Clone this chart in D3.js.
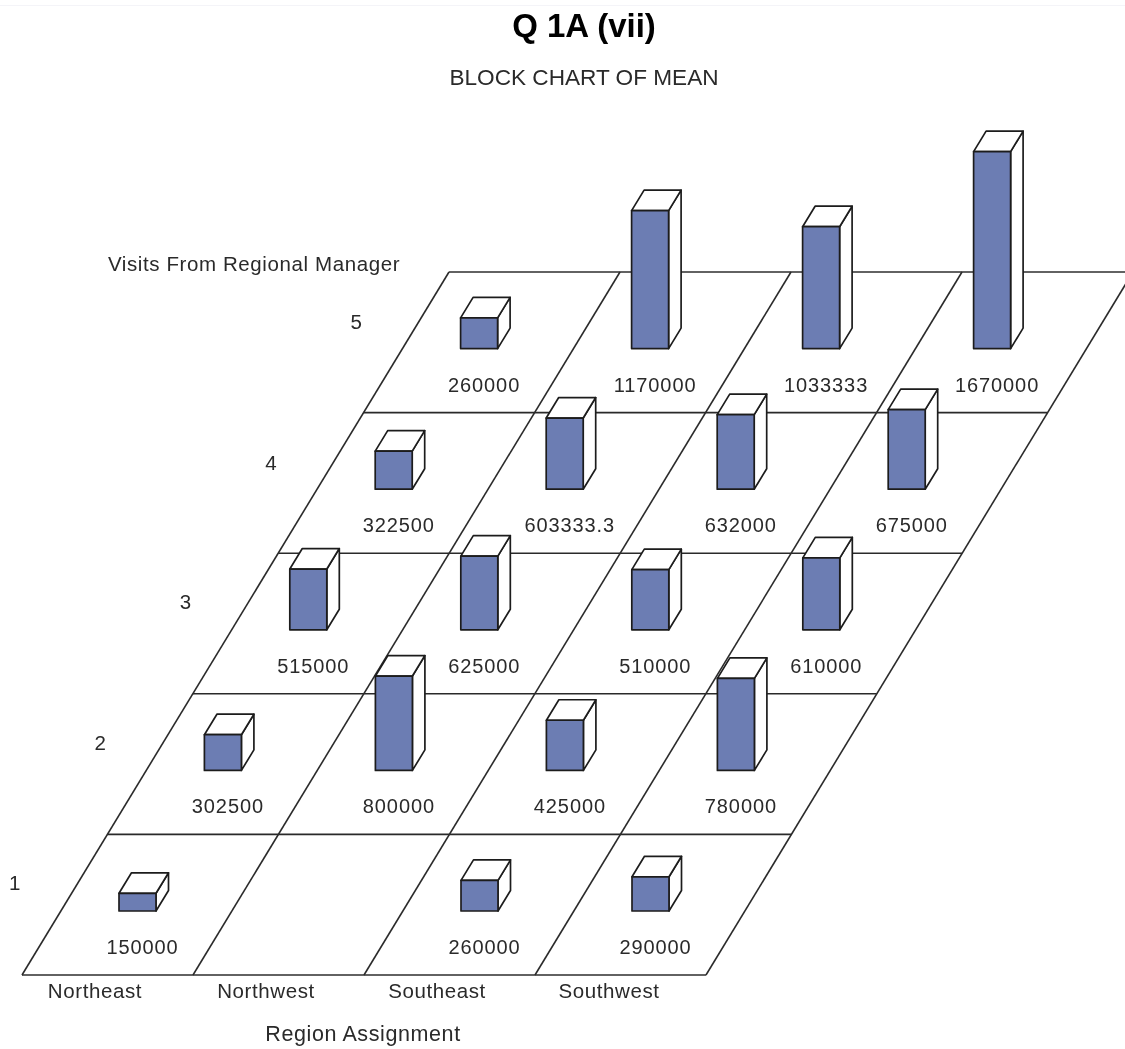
<!DOCTYPE html>
<html><head><meta charset="utf-8">
<script src="https://cdn.jsdelivr.net/npm/d3@7"></script>
<style>
html,body{margin:0;padding:0;background:#fff}
svg{display:block}
text{font-family:"Liberation Sans",Arial,sans-serif;fill:#2a2a2a}
</style></head><body>
<div id="chart"></div>
<script>
const regions = ["Northeast","Northwest","Southeast","Southwest"];
const visits = ["1","2","3","4","5"];
const row1 = [150000,null,260000,290000];
const row2 = [302500,800000,425000,780000];
const row3 = [515000,625000,510000,610000];
const row4 = [322500,603333.3,632000,675000];
const row5 = [260000,1170000,1033333,1670000];
const rows = [row1,row2,row3,row4,row5];
const titleText = "Q 1A (vii)";
const subtitleText = "BLOCK CHART OF MEAN";
const xAxisTitle = "Region Assignment";
const yAxisTitle = "Visits From Regional Manager";

const W = 1125, H = 1049;
const svg = d3.select("#chart").append("svg").attr("width",W).attr("height",H).attr("viewBox",[0,0,W,H]);
const defs = svg.append("defs");
defs.append("filter").attr("id","soft").append("feGaussianBlur").attr("stdDeviation",0.4);
const root = svg.append("g").attr("filter","url(#soft)");

const colX = d3.scaleLinear().domain([0,4]).range([22,706]);
const rowY = d3.scaleLinear().domain([0,5]).range([975,272]);
const skew = d3.scaleLinear().domain([0,5]).range([0,427]);
const valH = d3.scaleLinear().domain([0,1670000]).range([0,197]);
const px = (c,r)=>colX(c)+skew(r);
const line = d3.line();
const ink = "#2b2b2b";

root.append("line").attr("x1",0).attr("x2",W).attr("y1",5.5).attr("y2",5.5).attr("stroke","#f4f4f8");

const grid = root.append("g").attr("fill","none").attr("stroke",ink).attr("stroke-width",1.6);
d3.range(6).forEach(r=>grid.append("path").attr("d",line([[px(0,r),rowY(r)],[px(4,r),rowY(r)]])));
d3.range(5).forEach(c=>grid.append("path").attr("d",line([[px(c,0),rowY(0)],[px(c,5),rowY(5)]])));

const barOffX = 97, barOffY = 64, barW = 37, depthX = 12.5, depthY = 20.5;
const blocks = root.append("g").attr("stroke","#1e1e1e").attr("stroke-width",1.7).attr("stroke-linejoin","round");
d3.range(4,-1,-1).forEach(r=>{
  rows[r].forEach((v,c)=>{
    if(v==null) return;
    const x0 = px(c,r)+barOffX, x1 = x0+barW, yb = rowY(r)-barOffY, yt = yb-valH(v);
    const g = blocks.append("g");
    g.append("path").attr("fill","#fff").attr("d",line([[x1,yb],[x1+depthX,yb-depthY],[x1+depthX,yt-depthY],[x1,yt]])+"Z");
    g.append("path").attr("fill","#fff").attr("d",line([[x0,yt],[x0+depthX,yt-depthY],[x1+depthX,yt-depthY],[x1,yt]])+"Z");
    g.append("path").attr("fill","#6c7db3").attr("d",line([[x0,yb],[x1,yb],[x1,yt],[x0,yt]])+"Z");
  });
});

const labels = root.append("g").attr("text-anchor","middle").style("font-size","20px").style("letter-spacing","0.9px");
rows.forEach((vals,r)=>vals.forEach((v,c)=>{
  if(v==null) return;
  labels.append("text").attr("x",px(c,r)+barOffX+barW/2+5).attr("y",rowY(r)-21).text(v);
}));

const axes = root.append("g").style("font-size","20.5px").attr("text-anchor","middle").style("letter-spacing","0.6px");
regions.forEach((d,c)=>axes.append("text").attr("x",colX(c)+73+[0,0,0,1][c]).attr("y",998).text(d));
visits.forEach((d,r)=>axes.append("text").attr("x",15+skew(r)).attr("y",rowY(r)-[85,84,85,83,84][r]).text(d));
axes.append("text").attr("x",363).attr("y",1041).style("font-size","21.5px").text(xAxisTitle);
axes.append("text").attr("x",254).attr("y",271).text(yAxisTitle);

root.append("text").attr("x",584).attr("y",37).attr("text-anchor","middle").style("font-size","33px").style("font-weight","bold").style("fill","#000").text(titleText);
root.append("text").attr("x",584).attr("y",85).attr("text-anchor","middle").style("font-size","22.6px").text(subtitleText);
</script>
</body></html>
